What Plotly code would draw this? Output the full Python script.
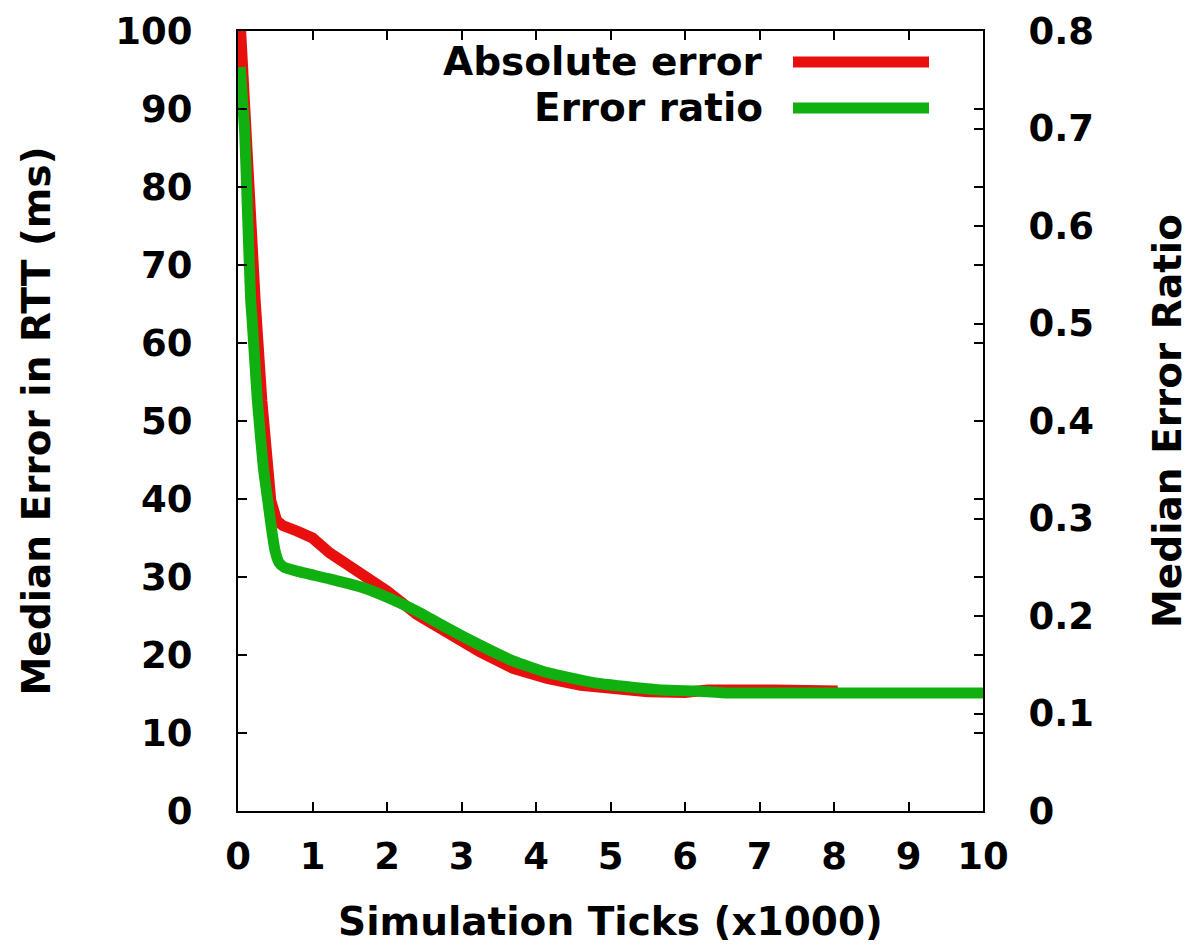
import plotly.graph_objects as go

# Absolute error (ms), left axis
abs_x = [0.03, 0.08, 0.12, 0.14, 0.23, 0.32, 0.40, 0.44, 0.52, 0.60, 0.79, 1.0, 1.23, 1.68, 2.0,
         2.4, 2.8, 3.0, 3.25, 3.69, 4.15, 4.6, 5.0, 5.5, 6.0, 6.3, 7.2, 8.05]
abs_y = [101, 92, 86.9, 78, 65.5, 52.6, 44, 39.8, 37.2, 36.6, 35.9, 35.0, 33.1, 30.3, 28.2,
         25.2, 22.9, 21.8, 20.4, 18.3, 17.0, 16.1, 15.6, 15.3, 15.2, 15.5, 15.5, 15.4]

# Error ratio, right axis
ratio_x = [0.03, 0.09, 0.13, 0.17, 0.19, 0.26, 0.34, 0.40, 0.46, 0.50, 0.55, 0.62, 0.79, 1.23, 1.68,
           2.04, 2.4, 2.8, 3.25, 3.69, 4.15, 4.82, 5.7, 6.15, 6.6, 10.0]
ratio_y = [0.763, 0.695, 0.608, 0.524, 0.503, 0.421, 0.352, 0.318, 0.284, 0.266, 0.255, 0.250,
           0.246, 0.238, 0.229, 0.218, 0.205, 0.188, 0.170, 0.154, 0.142, 0.131, 0.124, 0.123,
           0.121, 0.121]

x_ticks = [0, 1, 2, 3, 4, 5, 6, 7, 8, 9, 10]
y_ticks = [0, 10, 20, 30, 40, 50, 60, 70, 80, 90, 100]
y2_ticks = [0, 0.1, 0.2, 0.3, 0.4, 0.5, 0.6, 0.7, 0.8]
y2_labels = ["0", "0.1", "0.2", "0.3", "0.4", "0.5", "0.6", "0.7", "0.8"]

series_names = ["Absolute error", "Error ratio"]
RED = "#e8100e"
GREEN = "#10b010"

FONT = "DejaVu Sans"
tick_font = dict(family=FONT, size=37, color="black", weight="bold")
title_font = dict(family=FONT, size=39, color="black", weight="bold")

fig = go.Figure()
fig.add_trace(go.Scatter(x=abs_x, y=abs_y, mode="lines", name=series_names[0],
                         line=dict(color=RED, width=11), yaxis="y"))
fig.add_trace(go.Scatter(x=ratio_x, y=ratio_y, mode="lines", name=series_names[1],
                         line=dict(color=GREEN, width=11, shape="spline", smoothing=0.4),
                         yaxis="y2"))

axis_common = dict(showline=True, linecolor="black", linewidth=2, ticks="inside",
                   ticklen=9, tickwidth=2, tickcolor="black", showgrid=False,
                   zeroline=False, tickfont=tick_font, automargin=False)

fig.update_layout(
    width=1202, height=947,
    margin=dict(l=238, r=219, t=31, b=136),
    paper_bgcolor="white", plot_bgcolor="white",
    showlegend=False,
    xaxis=dict(range=[0, 10], tickvals=x_ticks, mirror="ticks", ticklabelstandoff=12,
               title=dict(text="Simulation Ticks (x1000)", font=title_font, standoff=30),
               **axis_common),
    yaxis=dict(range=[0, 100], tickvals=y_ticks, mirror="ticks", ticklabelstandoff=36,
               title=dict(text="Median Error in RTT (ms)", font=title_font, standoff=53),
               **axis_common),
    yaxis2=dict(range=[0, 0.8], tickvals=y2_ticks, ticktext=y2_labels, overlaying="y",
                side="right", ticklabelstandoff=36,
                title=dict(text="Median Error Ratio", font=title_font, standoff=61),
                **axis_common),
)

# Legend drawn in the style of the original (text left, line sample right)
legend_font = dict(family=FONT, size=39, color="black", weight="bold")
for name, color, ypos in [(series_names[0], RED, 1 - (62 - 31) / 780),
                          (series_names[1], GREEN, 1 - (108 - 31) / 780)]:
    fig.add_annotation(xref="paper", yref="paper", x=(765 - 238) / 745, y=ypos,
                       text=name, showarrow=False, xanchor="right", yanchor="middle",
                       font=legend_font)
    fig.add_shape(type="line", xref="paper", yref="paper",
                  x0=(793 - 238) / 745, x1=(929 - 238) / 745, y0=ypos, y1=ypos,
                  line=dict(color=color, width=11))

fig.write_html("out.html")
